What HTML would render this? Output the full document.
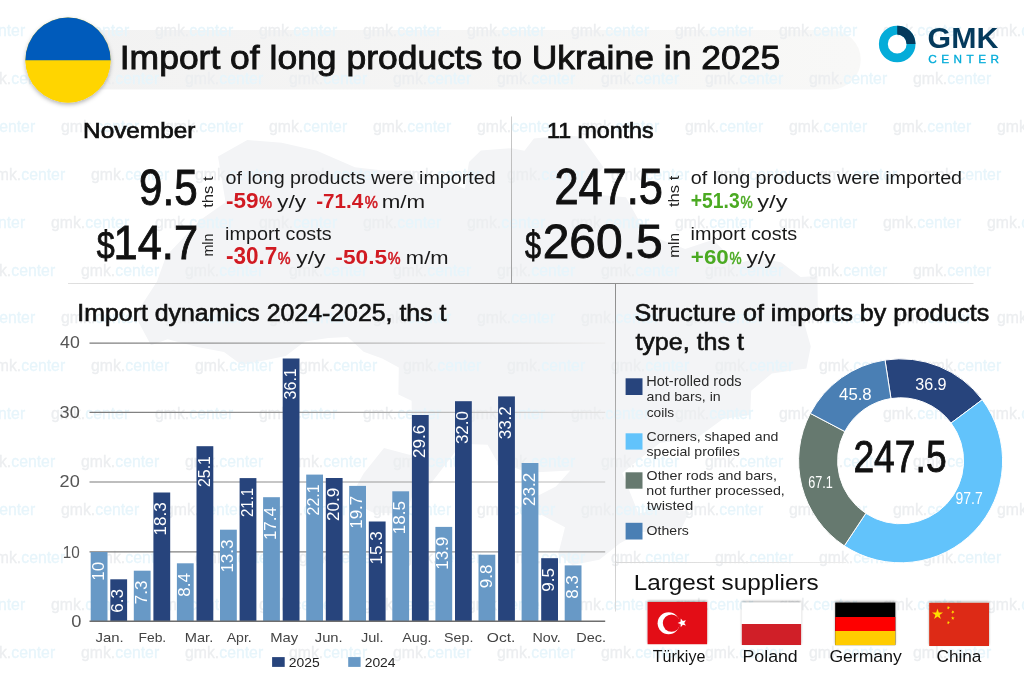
<!DOCTYPE html>
<html><head><meta charset="utf-8"><title>Import of long products to Ukraine in 2025</title>
<style>
html,body{margin:0;padding:0;background:#fff;}
body{width:1024px;height:683px;overflow:hidden;position:relative;font-family:"Liberation Sans", Arial, sans-serif;}
svg{position:absolute;left:0;top:0;}
</style></head><body>
<svg width="1024" height="683" viewBox="0 0 1024 683" font-family='"Liberation Sans", Arial, sans-serif'>
<defs>
<filter id="sh" x="-30%" y="-30%" width="160%" height="170%"><feDropShadow dx="0" dy="2" stdDeviation="2" flood-color="#000" flood-opacity="0.3"/></filter>
<filter id="fsh" x="-20%" y="-30%" width="140%" height="160%"><feDropShadow dx="0" dy="-1.2" stdDeviation="1.3" flood-color="#000" flood-opacity="0.35"/></filter>
<linearGradient id="tb" x1="0" x2="1" y1="0" y2="0"><stop offset="0" stop-color="#f2f2f2"/><stop offset="1" stop-color="#f8f8f7"/></linearGradient>
<linearGradient id="lg511" gradientUnits="userSpaceOnUse" x1="0" y1="116" x2="0" y2="283"><stop offset="0" stop-color="#cdcdcd"/><stop offset="1" stop-color="#9c9c9c"/></linearGradient>
<linearGradient id="lg283" gradientUnits="userSpaceOnUse" x1="68" y1="0" x2="973" y2="0"><stop offset="0" stop-color="#e0e0e0"/><stop offset="0.49" stop-color="#9e9e9e"/><stop offset="0.6" stop-color="#8e8e8e"/><stop offset="1" stop-color="#dedede"/></linearGradient>
<linearGradient id="lg615" gradientUnits="userSpaceOnUse" x1="0" y1="283" x2="0" y2="611"><stop offset="0" stop-color="#8c8c8c"/><stop offset="1" stop-color="#dadada"/></linearGradient>
<linearGradient id="lg562" gradientUnits="userSpaceOnUse" x1="615" y1="0" x2="846" y2="0"><stop offset="0" stop-color="#d8d8d8"/><stop offset="1" stop-color="#ececec"/></linearGradient>
<linearGradient id="lg40" gradientUnits="userSpaceOnUse" x1="89.5" y1="0" x2="605.2" y2="0"><stop offset="0" stop-color="#7a7a7a"/><stop offset="0.5" stop-color="#b4b4b4"/><stop offset="1" stop-color="#eeeeee"/></linearGradient>
<linearGradient id="lg30" gradientUnits="userSpaceOnUse" x1="89.5" y1="0" x2="605.2" y2="0"><stop offset="0" stop-color="#7a7a7a"/><stop offset="0.5" stop-color="#a4a4a4"/><stop offset="1" stop-color="#e2e2e2"/></linearGradient>
<linearGradient id="lg20" gradientUnits="userSpaceOnUse" x1="89.5" y1="0" x2="605.2" y2="0"><stop offset="0" stop-color="#7a7a7a"/><stop offset="0.5" stop-color="#959595"/><stop offset="1" stop-color="#c4c4c4"/></linearGradient>
<linearGradient id="lg10" gradientUnits="userSpaceOnUse" x1="89.5" y1="0" x2="605.2" y2="0"><stop offset="0" stop-color="#7a7a7a"/><stop offset="0.5" stop-color="#8c8c8c"/><stop offset="1" stop-color="#a8a8a8"/></linearGradient>
<clipPath id="fc"><circle cx="68" cy="60" r="42.6"/></clipPath>
</defs>
<rect id="bg" width="1024" height="683" fill="#fff"/>
<polygon id="map" points="135.0,315.5 157.0,281.5 166.1,256.0 200.0,220.2 225.6,202.2 218.0,156.5 247.3,140.0 281.7,142.8 316.9,150.8 354.9,167.2 383.0,170.5 409.9,170.7 418.2,183.6 451.1,182.7 464.8,188.7 469.0,161.9 480.8,150.5 511.5,148.2 524.5,150.7 533.9,138.5 561.9,135.7 581.3,136.4 603.5,167.2 594.4,178.0 597.1,194.8 626.0,197.3 639.0,220.8 638.3,231.1 685.2,248.9 713.0,239.8 736.8,263.6 758.5,258.1 781.0,262.2 800.6,277.1 817.4,275.9 817.8,308.3 803.3,320.1 810.8,346.6 806.4,368.6 771.8,373.5 751.2,390.8 750.2,415.1 722.8,419.1 695.7,439.0 660.1,442.7 632.4,464.8 622.3,473.0 638.4,513.4 668.8,507.3 689.2,512.2 681.4,528.6 640.5,532.2 620.0,543.3 599.3,559.7 572.4,565.1 558.2,554.2 565.0,527.2 538.9,513.4 522.9,507.7 535.4,497.1 555.9,486.6 570.3,470.5 528.2,472.7 496.7,461.1 487.6,444.7 465.8,443.9 455.4,451.6 431.3,483.0 412.2,495.6 406.6,514.2 372.1,512.2 348.9,499.7 363.6,473.6 384.0,447.9 409.3,454.8 429.4,453.1 423.1,431.2 411.9,422.4 411.6,400.8 398.4,394.6 398.8,367.6 382.2,358.4 363.6,351.7 347.8,336.9 328.4,338.1 304.9,341.4 285.7,355.9 241.7,364.9 224.0,352.0 197.5,347.1 167.6,339.3 151.0,345.2" fill="#f3f4f6"/>
<path d="M68,30 H831 A29.75,29.75 0 0 1 831,89.5 H68 Z" fill="url(#tb)"/>
<g id="wm" font-size="15.8" stroke-width="0.3">
<text x="-53.0" y="36.3"><tspan fill="#eceef0" stroke="#eceef0">gmk.</tspan><tspan fill="#e7f5fb" stroke="#e7f5fb">center</tspan></text>
<text x="51.0" y="36.3"><tspan fill="#eceef0" stroke="#eceef0">gmk.</tspan><tspan fill="#e7f5fb" stroke="#e7f5fb">center</tspan></text>
<text x="155.0" y="36.3"><tspan fill="#eceef0" stroke="#eceef0">gmk.</tspan><tspan fill="#e7f5fb" stroke="#e7f5fb">center</tspan></text>
<text x="259.0" y="36.3"><tspan fill="#eceef0" stroke="#eceef0">gmk.</tspan><tspan fill="#e7f5fb" stroke="#e7f5fb">center</tspan></text>
<text x="363.0" y="36.3"><tspan fill="#eceef0" stroke="#eceef0">gmk.</tspan><tspan fill="#e7f5fb" stroke="#e7f5fb">center</tspan></text>
<text x="467.0" y="36.3"><tspan fill="#eceef0" stroke="#eceef0">gmk.</tspan><tspan fill="#e7f5fb" stroke="#e7f5fb">center</tspan></text>
<text x="571.0" y="36.3"><tspan fill="#eceef0" stroke="#eceef0">gmk.</tspan><tspan fill="#e7f5fb" stroke="#e7f5fb">center</tspan></text>
<text x="675.0" y="36.3"><tspan fill="#eceef0" stroke="#eceef0">gmk.</tspan><tspan fill="#e7f5fb" stroke="#e7f5fb">center</tspan></text>
<text x="779.0" y="36.3"><tspan fill="#eceef0" stroke="#eceef0">gmk.</tspan><tspan fill="#e7f5fb" stroke="#e7f5fb">center</tspan></text>
<text x="883.0" y="36.3"><tspan fill="#eceef0" stroke="#eceef0">gmk.</tspan><tspan fill="#e7f5fb" stroke="#e7f5fb">center</tspan></text>
<text x="987.0" y="36.3"><tspan fill="#eceef0" stroke="#eceef0">gmk.</tspan><tspan fill="#e7f5fb" stroke="#e7f5fb">center</tspan></text>
<text x="-23.0" y="84.1"><tspan fill="#eceef0" stroke="#eceef0">gmk.</tspan><tspan fill="#e7f5fb" stroke="#e7f5fb">center</tspan></text>
<text x="81.0" y="84.1"><tspan fill="#eceef0" stroke="#eceef0">gmk.</tspan><tspan fill="#e7f5fb" stroke="#e7f5fb">center</tspan></text>
<text x="185.0" y="84.1"><tspan fill="#eceef0" stroke="#eceef0">gmk.</tspan><tspan fill="#e7f5fb" stroke="#e7f5fb">center</tspan></text>
<text x="289.0" y="84.1"><tspan fill="#eceef0" stroke="#eceef0">gmk.</tspan><tspan fill="#e7f5fb" stroke="#e7f5fb">center</tspan></text>
<text x="393.0" y="84.1"><tspan fill="#eceef0" stroke="#eceef0">gmk.</tspan><tspan fill="#e7f5fb" stroke="#e7f5fb">center</tspan></text>
<text x="497.0" y="84.1"><tspan fill="#eceef0" stroke="#eceef0">gmk.</tspan><tspan fill="#e7f5fb" stroke="#e7f5fb">center</tspan></text>
<text x="601.0" y="84.1"><tspan fill="#eceef0" stroke="#eceef0">gmk.</tspan><tspan fill="#e7f5fb" stroke="#e7f5fb">center</tspan></text>
<text x="705.0" y="84.1"><tspan fill="#eceef0" stroke="#eceef0">gmk.</tspan><tspan fill="#e7f5fb" stroke="#e7f5fb">center</tspan></text>
<text x="809.0" y="84.1"><tspan fill="#eceef0" stroke="#eceef0">gmk.</tspan><tspan fill="#e7f5fb" stroke="#e7f5fb">center</tspan></text>
<text x="913.0" y="84.1"><tspan fill="#eceef0" stroke="#eceef0">gmk.</tspan><tspan fill="#e7f5fb" stroke="#e7f5fb">center</tspan></text>
<text x="-43.0" y="132.0"><tspan fill="#eceef0" stroke="#eceef0">gmk.</tspan><tspan fill="#e7f5fb" stroke="#e7f5fb">center</tspan></text>
<text x="61.0" y="132.0"><tspan fill="#eceef0" stroke="#eceef0">gmk.</tspan><tspan fill="#e7f5fb" stroke="#e7f5fb">center</tspan></text>
<text x="165.0" y="132.0"><tspan fill="#eceef0" stroke="#eceef0">gmk.</tspan><tspan fill="#e7f5fb" stroke="#e7f5fb">center</tspan></text>
<text x="269.0" y="132.0"><tspan fill="#eceef0" stroke="#eceef0">gmk.</tspan><tspan fill="#e7f5fb" stroke="#e7f5fb">center</tspan></text>
<text x="373.0" y="132.0"><tspan fill="#eceef0" stroke="#eceef0">gmk.</tspan><tspan fill="#e7f5fb" stroke="#e7f5fb">center</tspan></text>
<text x="477.0" y="132.0"><tspan fill="#eceef0" stroke="#eceef0">gmk.</tspan><tspan fill="#e7f5fb" stroke="#e7f5fb">center</tspan></text>
<text x="581.0" y="132.0"><tspan fill="#eceef0" stroke="#eceef0">gmk.</tspan><tspan fill="#e7f5fb" stroke="#e7f5fb">center</tspan></text>
<text x="685.0" y="132.0"><tspan fill="#eceef0" stroke="#eceef0">gmk.</tspan><tspan fill="#e7f5fb" stroke="#e7f5fb">center</tspan></text>
<text x="789.0" y="132.0"><tspan fill="#eceef0" stroke="#eceef0">gmk.</tspan><tspan fill="#e7f5fb" stroke="#e7f5fb">center</tspan></text>
<text x="893.0" y="132.0"><tspan fill="#eceef0" stroke="#eceef0">gmk.</tspan><tspan fill="#e7f5fb" stroke="#e7f5fb">center</tspan></text>
<text x="997.0" y="132.0"><tspan fill="#eceef0" stroke="#eceef0">gmk.</tspan><tspan fill="#e7f5fb" stroke="#e7f5fb">center</tspan></text>
<text x="-13.0" y="179.8"><tspan fill="#eceef0" stroke="#eceef0">gmk.</tspan><tspan fill="#e7f5fb" stroke="#e7f5fb">center</tspan></text>
<text x="91.0" y="179.8"><tspan fill="#eceef0" stroke="#eceef0">gmk.</tspan><tspan fill="#e7f5fb" stroke="#e7f5fb">center</tspan></text>
<text x="195.0" y="179.8"><tspan fill="#eceef0" stroke="#eceef0">gmk.</tspan><tspan fill="#e7f5fb" stroke="#e7f5fb">center</tspan></text>
<text x="299.0" y="179.8"><tspan fill="#eceef0" stroke="#eceef0">gmk.</tspan><tspan fill="#e7f5fb" stroke="#e7f5fb">center</tspan></text>
<text x="403.0" y="179.8"><tspan fill="#eceef0" stroke="#eceef0">gmk.</tspan><tspan fill="#e7f5fb" stroke="#e7f5fb">center</tspan></text>
<text x="507.0" y="179.8"><tspan fill="#eceef0" stroke="#eceef0">gmk.</tspan><tspan fill="#e7f5fb" stroke="#e7f5fb">center</tspan></text>
<text x="611.0" y="179.8"><tspan fill="#eceef0" stroke="#eceef0">gmk.</tspan><tspan fill="#e7f5fb" stroke="#e7f5fb">center</tspan></text>
<text x="715.0" y="179.8"><tspan fill="#eceef0" stroke="#eceef0">gmk.</tspan><tspan fill="#e7f5fb" stroke="#e7f5fb">center</tspan></text>
<text x="819.0" y="179.8"><tspan fill="#eceef0" stroke="#eceef0">gmk.</tspan><tspan fill="#e7f5fb" stroke="#e7f5fb">center</tspan></text>
<text x="923.0" y="179.8"><tspan fill="#eceef0" stroke="#eceef0">gmk.</tspan><tspan fill="#e7f5fb" stroke="#e7f5fb">center</tspan></text>
<text x="-53.0" y="227.7"><tspan fill="#eceef0" stroke="#eceef0">gmk.</tspan><tspan fill="#e7f5fb" stroke="#e7f5fb">center</tspan></text>
<text x="51.0" y="227.7"><tspan fill="#eceef0" stroke="#eceef0">gmk.</tspan><tspan fill="#e7f5fb" stroke="#e7f5fb">center</tspan></text>
<text x="155.0" y="227.7"><tspan fill="#eceef0" stroke="#eceef0">gmk.</tspan><tspan fill="#e7f5fb" stroke="#e7f5fb">center</tspan></text>
<text x="259.0" y="227.7"><tspan fill="#eceef0" stroke="#eceef0">gmk.</tspan><tspan fill="#e7f5fb" stroke="#e7f5fb">center</tspan></text>
<text x="363.0" y="227.7"><tspan fill="#eceef0" stroke="#eceef0">gmk.</tspan><tspan fill="#e7f5fb" stroke="#e7f5fb">center</tspan></text>
<text x="467.0" y="227.7"><tspan fill="#eceef0" stroke="#eceef0">gmk.</tspan><tspan fill="#e7f5fb" stroke="#e7f5fb">center</tspan></text>
<text x="571.0" y="227.7"><tspan fill="#eceef0" stroke="#eceef0">gmk.</tspan><tspan fill="#e7f5fb" stroke="#e7f5fb">center</tspan></text>
<text x="675.0" y="227.7"><tspan fill="#eceef0" stroke="#eceef0">gmk.</tspan><tspan fill="#e7f5fb" stroke="#e7f5fb">center</tspan></text>
<text x="779.0" y="227.7"><tspan fill="#eceef0" stroke="#eceef0">gmk.</tspan><tspan fill="#e7f5fb" stroke="#e7f5fb">center</tspan></text>
<text x="883.0" y="227.7"><tspan fill="#eceef0" stroke="#eceef0">gmk.</tspan><tspan fill="#e7f5fb" stroke="#e7f5fb">center</tspan></text>
<text x="987.0" y="227.7"><tspan fill="#eceef0" stroke="#eceef0">gmk.</tspan><tspan fill="#e7f5fb" stroke="#e7f5fb">center</tspan></text>
<text x="-23.0" y="275.5"><tspan fill="#eceef0" stroke="#eceef0">gmk.</tspan><tspan fill="#e7f5fb" stroke="#e7f5fb">center</tspan></text>
<text x="81.0" y="275.5"><tspan fill="#eceef0" stroke="#eceef0">gmk.</tspan><tspan fill="#e7f5fb" stroke="#e7f5fb">center</tspan></text>
<text x="185.0" y="275.5"><tspan fill="#eceef0" stroke="#eceef0">gmk.</tspan><tspan fill="#e7f5fb" stroke="#e7f5fb">center</tspan></text>
<text x="289.0" y="275.5"><tspan fill="#eceef0" stroke="#eceef0">gmk.</tspan><tspan fill="#e7f5fb" stroke="#e7f5fb">center</tspan></text>
<text x="393.0" y="275.5"><tspan fill="#eceef0" stroke="#eceef0">gmk.</tspan><tspan fill="#e7f5fb" stroke="#e7f5fb">center</tspan></text>
<text x="497.0" y="275.5"><tspan fill="#eceef0" stroke="#eceef0">gmk.</tspan><tspan fill="#e7f5fb" stroke="#e7f5fb">center</tspan></text>
<text x="601.0" y="275.5"><tspan fill="#eceef0" stroke="#eceef0">gmk.</tspan><tspan fill="#e7f5fb" stroke="#e7f5fb">center</tspan></text>
<text x="705.0" y="275.5"><tspan fill="#eceef0" stroke="#eceef0">gmk.</tspan><tspan fill="#e7f5fb" stroke="#e7f5fb">center</tspan></text>
<text x="809.0" y="275.5"><tspan fill="#eceef0" stroke="#eceef0">gmk.</tspan><tspan fill="#e7f5fb" stroke="#e7f5fb">center</tspan></text>
<text x="913.0" y="275.5"><tspan fill="#eceef0" stroke="#eceef0">gmk.</tspan><tspan fill="#e7f5fb" stroke="#e7f5fb">center</tspan></text>
<text x="-43.0" y="323.3"><tspan fill="#eceef0" stroke="#eceef0">gmk.</tspan><tspan fill="#e7f5fb" stroke="#e7f5fb">center</tspan></text>
<text x="61.0" y="323.3"><tspan fill="#eceef0" stroke="#eceef0">gmk.</tspan><tspan fill="#e7f5fb" stroke="#e7f5fb">center</tspan></text>
<text x="165.0" y="323.3"><tspan fill="#eceef0" stroke="#eceef0">gmk.</tspan><tspan fill="#e7f5fb" stroke="#e7f5fb">center</tspan></text>
<text x="269.0" y="323.3"><tspan fill="#eceef0" stroke="#eceef0">gmk.</tspan><tspan fill="#e7f5fb" stroke="#e7f5fb">center</tspan></text>
<text x="373.0" y="323.3"><tspan fill="#eceef0" stroke="#eceef0">gmk.</tspan><tspan fill="#e7f5fb" stroke="#e7f5fb">center</tspan></text>
<text x="477.0" y="323.3"><tspan fill="#eceef0" stroke="#eceef0">gmk.</tspan><tspan fill="#e7f5fb" stroke="#e7f5fb">center</tspan></text>
<text x="581.0" y="323.3"><tspan fill="#eceef0" stroke="#eceef0">gmk.</tspan><tspan fill="#e7f5fb" stroke="#e7f5fb">center</tspan></text>
<text x="685.0" y="323.3"><tspan fill="#eceef0" stroke="#eceef0">gmk.</tspan><tspan fill="#e7f5fb" stroke="#e7f5fb">center</tspan></text>
<text x="789.0" y="323.3"><tspan fill="#eceef0" stroke="#eceef0">gmk.</tspan><tspan fill="#e7f5fb" stroke="#e7f5fb">center</tspan></text>
<text x="893.0" y="323.3"><tspan fill="#eceef0" stroke="#eceef0">gmk.</tspan><tspan fill="#e7f5fb" stroke="#e7f5fb">center</tspan></text>
<text x="997.0" y="323.3"><tspan fill="#eceef0" stroke="#eceef0">gmk.</tspan><tspan fill="#e7f5fb" stroke="#e7f5fb">center</tspan></text>
<text x="-13.0" y="371.2"><tspan fill="#eceef0" stroke="#eceef0">gmk.</tspan><tspan fill="#e7f5fb" stroke="#e7f5fb">center</tspan></text>
<text x="91.0" y="371.2"><tspan fill="#eceef0" stroke="#eceef0">gmk.</tspan><tspan fill="#e7f5fb" stroke="#e7f5fb">center</tspan></text>
<text x="195.0" y="371.2"><tspan fill="#eceef0" stroke="#eceef0">gmk.</tspan><tspan fill="#e7f5fb" stroke="#e7f5fb">center</tspan></text>
<text x="299.0" y="371.2"><tspan fill="#eceef0" stroke="#eceef0">gmk.</tspan><tspan fill="#e7f5fb" stroke="#e7f5fb">center</tspan></text>
<text x="403.0" y="371.2"><tspan fill="#eceef0" stroke="#eceef0">gmk.</tspan><tspan fill="#e7f5fb" stroke="#e7f5fb">center</tspan></text>
<text x="507.0" y="371.2"><tspan fill="#eceef0" stroke="#eceef0">gmk.</tspan><tspan fill="#e7f5fb" stroke="#e7f5fb">center</tspan></text>
<text x="611.0" y="371.2"><tspan fill="#eceef0" stroke="#eceef0">gmk.</tspan><tspan fill="#e7f5fb" stroke="#e7f5fb">center</tspan></text>
<text x="715.0" y="371.2"><tspan fill="#eceef0" stroke="#eceef0">gmk.</tspan><tspan fill="#e7f5fb" stroke="#e7f5fb">center</tspan></text>
<text x="819.0" y="371.2"><tspan fill="#eceef0" stroke="#eceef0">gmk.</tspan><tspan fill="#e7f5fb" stroke="#e7f5fb">center</tspan></text>
<text x="923.0" y="371.2"><tspan fill="#eceef0" stroke="#eceef0">gmk.</tspan><tspan fill="#e7f5fb" stroke="#e7f5fb">center</tspan></text>
<text x="-53.0" y="419.0"><tspan fill="#eceef0" stroke="#eceef0">gmk.</tspan><tspan fill="#e7f5fb" stroke="#e7f5fb">center</tspan></text>
<text x="51.0" y="419.0"><tspan fill="#eceef0" stroke="#eceef0">gmk.</tspan><tspan fill="#e7f5fb" stroke="#e7f5fb">center</tspan></text>
<text x="155.0" y="419.0"><tspan fill="#eceef0" stroke="#eceef0">gmk.</tspan><tspan fill="#e7f5fb" stroke="#e7f5fb">center</tspan></text>
<text x="259.0" y="419.0"><tspan fill="#eceef0" stroke="#eceef0">gmk.</tspan><tspan fill="#e7f5fb" stroke="#e7f5fb">center</tspan></text>
<text x="363.0" y="419.0"><tspan fill="#eceef0" stroke="#eceef0">gmk.</tspan><tspan fill="#e7f5fb" stroke="#e7f5fb">center</tspan></text>
<text x="467.0" y="419.0"><tspan fill="#eceef0" stroke="#eceef0">gmk.</tspan><tspan fill="#e7f5fb" stroke="#e7f5fb">center</tspan></text>
<text x="571.0" y="419.0"><tspan fill="#eceef0" stroke="#eceef0">gmk.</tspan><tspan fill="#e7f5fb" stroke="#e7f5fb">center</tspan></text>
<text x="675.0" y="419.0"><tspan fill="#eceef0" stroke="#eceef0">gmk.</tspan><tspan fill="#e7f5fb" stroke="#e7f5fb">center</tspan></text>
<text x="779.0" y="419.0"><tspan fill="#eceef0" stroke="#eceef0">gmk.</tspan><tspan fill="#e7f5fb" stroke="#e7f5fb">center</tspan></text>
<text x="883.0" y="419.0"><tspan fill="#eceef0" stroke="#eceef0">gmk.</tspan><tspan fill="#e7f5fb" stroke="#e7f5fb">center</tspan></text>
<text x="987.0" y="419.0"><tspan fill="#eceef0" stroke="#eceef0">gmk.</tspan><tspan fill="#e7f5fb" stroke="#e7f5fb">center</tspan></text>
<text x="-23.0" y="466.9"><tspan fill="#eceef0" stroke="#eceef0">gmk.</tspan><tspan fill="#e7f5fb" stroke="#e7f5fb">center</tspan></text>
<text x="81.0" y="466.9"><tspan fill="#eceef0" stroke="#eceef0">gmk.</tspan><tspan fill="#e7f5fb" stroke="#e7f5fb">center</tspan></text>
<text x="185.0" y="466.9"><tspan fill="#eceef0" stroke="#eceef0">gmk.</tspan><tspan fill="#e7f5fb" stroke="#e7f5fb">center</tspan></text>
<text x="289.0" y="466.9"><tspan fill="#eceef0" stroke="#eceef0">gmk.</tspan><tspan fill="#e7f5fb" stroke="#e7f5fb">center</tspan></text>
<text x="393.0" y="466.9"><tspan fill="#eceef0" stroke="#eceef0">gmk.</tspan><tspan fill="#e7f5fb" stroke="#e7f5fb">center</tspan></text>
<text x="497.0" y="466.9"><tspan fill="#eceef0" stroke="#eceef0">gmk.</tspan><tspan fill="#e7f5fb" stroke="#e7f5fb">center</tspan></text>
<text x="601.0" y="466.9"><tspan fill="#eceef0" stroke="#eceef0">gmk.</tspan><tspan fill="#e7f5fb" stroke="#e7f5fb">center</tspan></text>
<text x="705.0" y="466.9"><tspan fill="#eceef0" stroke="#eceef0">gmk.</tspan><tspan fill="#e7f5fb" stroke="#e7f5fb">center</tspan></text>
<text x="809.0" y="466.9"><tspan fill="#eceef0" stroke="#eceef0">gmk.</tspan><tspan fill="#e7f5fb" stroke="#e7f5fb">center</tspan></text>
<text x="913.0" y="466.9"><tspan fill="#eceef0" stroke="#eceef0">gmk.</tspan><tspan fill="#e7f5fb" stroke="#e7f5fb">center</tspan></text>
<text x="-43.0" y="514.7"><tspan fill="#eceef0" stroke="#eceef0">gmk.</tspan><tspan fill="#e7f5fb" stroke="#e7f5fb">center</tspan></text>
<text x="61.0" y="514.7"><tspan fill="#eceef0" stroke="#eceef0">gmk.</tspan><tspan fill="#e7f5fb" stroke="#e7f5fb">center</tspan></text>
<text x="165.0" y="514.7"><tspan fill="#eceef0" stroke="#eceef0">gmk.</tspan><tspan fill="#e7f5fb" stroke="#e7f5fb">center</tspan></text>
<text x="269.0" y="514.7"><tspan fill="#eceef0" stroke="#eceef0">gmk.</tspan><tspan fill="#e7f5fb" stroke="#e7f5fb">center</tspan></text>
<text x="373.0" y="514.7"><tspan fill="#eceef0" stroke="#eceef0">gmk.</tspan><tspan fill="#e7f5fb" stroke="#e7f5fb">center</tspan></text>
<text x="477.0" y="514.7"><tspan fill="#eceef0" stroke="#eceef0">gmk.</tspan><tspan fill="#e7f5fb" stroke="#e7f5fb">center</tspan></text>
<text x="581.0" y="514.7"><tspan fill="#eceef0" stroke="#eceef0">gmk.</tspan><tspan fill="#e7f5fb" stroke="#e7f5fb">center</tspan></text>
<text x="685.0" y="514.7"><tspan fill="#eceef0" stroke="#eceef0">gmk.</tspan><tspan fill="#e7f5fb" stroke="#e7f5fb">center</tspan></text>
<text x="789.0" y="514.7"><tspan fill="#eceef0" stroke="#eceef0">gmk.</tspan><tspan fill="#e7f5fb" stroke="#e7f5fb">center</tspan></text>
<text x="893.0" y="514.7"><tspan fill="#eceef0" stroke="#eceef0">gmk.</tspan><tspan fill="#e7f5fb" stroke="#e7f5fb">center</tspan></text>
<text x="997.0" y="514.7"><tspan fill="#eceef0" stroke="#eceef0">gmk.</tspan><tspan fill="#e7f5fb" stroke="#e7f5fb">center</tspan></text>
<text x="-13.0" y="562.5"><tspan fill="#eceef0" stroke="#eceef0">gmk.</tspan><tspan fill="#e7f5fb" stroke="#e7f5fb">center</tspan></text>
<text x="91.0" y="562.5"><tspan fill="#eceef0" stroke="#eceef0">gmk.</tspan><tspan fill="#e7f5fb" stroke="#e7f5fb">center</tspan></text>
<text x="195.0" y="562.5"><tspan fill="#eceef0" stroke="#eceef0">gmk.</tspan><tspan fill="#e7f5fb" stroke="#e7f5fb">center</tspan></text>
<text x="299.0" y="562.5"><tspan fill="#eceef0" stroke="#eceef0">gmk.</tspan><tspan fill="#e7f5fb" stroke="#e7f5fb">center</tspan></text>
<text x="403.0" y="562.5"><tspan fill="#eceef0" stroke="#eceef0">gmk.</tspan><tspan fill="#e7f5fb" stroke="#e7f5fb">center</tspan></text>
<text x="507.0" y="562.5"><tspan fill="#eceef0" stroke="#eceef0">gmk.</tspan><tspan fill="#e7f5fb" stroke="#e7f5fb">center</tspan></text>
<text x="611.0" y="562.5"><tspan fill="#eceef0" stroke="#eceef0">gmk.</tspan><tspan fill="#e7f5fb" stroke="#e7f5fb">center</tspan></text>
<text x="715.0" y="562.5"><tspan fill="#eceef0" stroke="#eceef0">gmk.</tspan><tspan fill="#e7f5fb" stroke="#e7f5fb">center</tspan></text>
<text x="819.0" y="562.5"><tspan fill="#eceef0" stroke="#eceef0">gmk.</tspan><tspan fill="#e7f5fb" stroke="#e7f5fb">center</tspan></text>
<text x="923.0" y="562.5"><tspan fill="#eceef0" stroke="#eceef0">gmk.</tspan><tspan fill="#e7f5fb" stroke="#e7f5fb">center</tspan></text>
<text x="-53.0" y="610.4"><tspan fill="#eceef0" stroke="#eceef0">gmk.</tspan><tspan fill="#e7f5fb" stroke="#e7f5fb">center</tspan></text>
<text x="51.0" y="610.4"><tspan fill="#eceef0" stroke="#eceef0">gmk.</tspan><tspan fill="#e7f5fb" stroke="#e7f5fb">center</tspan></text>
<text x="155.0" y="610.4"><tspan fill="#eceef0" stroke="#eceef0">gmk.</tspan><tspan fill="#e7f5fb" stroke="#e7f5fb">center</tspan></text>
<text x="259.0" y="610.4"><tspan fill="#eceef0" stroke="#eceef0">gmk.</tspan><tspan fill="#e7f5fb" stroke="#e7f5fb">center</tspan></text>
<text x="363.0" y="610.4"><tspan fill="#eceef0" stroke="#eceef0">gmk.</tspan><tspan fill="#e7f5fb" stroke="#e7f5fb">center</tspan></text>
<text x="467.0" y="610.4"><tspan fill="#eceef0" stroke="#eceef0">gmk.</tspan><tspan fill="#e7f5fb" stroke="#e7f5fb">center</tspan></text>
<text x="571.0" y="610.4"><tspan fill="#eceef0" stroke="#eceef0">gmk.</tspan><tspan fill="#e7f5fb" stroke="#e7f5fb">center</tspan></text>
<text x="675.0" y="610.4"><tspan fill="#eceef0" stroke="#eceef0">gmk.</tspan><tspan fill="#e7f5fb" stroke="#e7f5fb">center</tspan></text>
<text x="779.0" y="610.4"><tspan fill="#eceef0" stroke="#eceef0">gmk.</tspan><tspan fill="#e7f5fb" stroke="#e7f5fb">center</tspan></text>
<text x="883.0" y="610.4"><tspan fill="#eceef0" stroke="#eceef0">gmk.</tspan><tspan fill="#e7f5fb" stroke="#e7f5fb">center</tspan></text>
<text x="987.0" y="610.4"><tspan fill="#eceef0" stroke="#eceef0">gmk.</tspan><tspan fill="#e7f5fb" stroke="#e7f5fb">center</tspan></text>
<text x="-23.0" y="658.2"><tspan fill="#eceef0" stroke="#eceef0">gmk.</tspan><tspan fill="#e7f5fb" stroke="#e7f5fb">center</tspan></text>
<text x="81.0" y="658.2"><tspan fill="#eceef0" stroke="#eceef0">gmk.</tspan><tspan fill="#e7f5fb" stroke="#e7f5fb">center</tspan></text>
<text x="185.0" y="658.2"><tspan fill="#eceef0" stroke="#eceef0">gmk.</tspan><tspan fill="#e7f5fb" stroke="#e7f5fb">center</tspan></text>
<text x="289.0" y="658.2"><tspan fill="#eceef0" stroke="#eceef0">gmk.</tspan><tspan fill="#e7f5fb" stroke="#e7f5fb">center</tspan></text>
<text x="393.0" y="658.2"><tspan fill="#eceef0" stroke="#eceef0">gmk.</tspan><tspan fill="#e7f5fb" stroke="#e7f5fb">center</tspan></text>
<text x="497.0" y="658.2"><tspan fill="#eceef0" stroke="#eceef0">gmk.</tspan><tspan fill="#e7f5fb" stroke="#e7f5fb">center</tspan></text>
<text x="601.0" y="658.2"><tspan fill="#eceef0" stroke="#eceef0">gmk.</tspan><tspan fill="#e7f5fb" stroke="#e7f5fb">center</tspan></text>
<text x="705.0" y="658.2"><tspan fill="#eceef0" stroke="#eceef0">gmk.</tspan><tspan fill="#e7f5fb" stroke="#e7f5fb">center</tspan></text>
<text x="809.0" y="658.2"><tspan fill="#eceef0" stroke="#eceef0">gmk.</tspan><tspan fill="#e7f5fb" stroke="#e7f5fb">center</tspan></text>
<text x="913.0" y="658.2"><tspan fill="#eceef0" stroke="#eceef0">gmk.</tspan><tspan fill="#e7f5fb" stroke="#e7f5fb">center</tspan></text>
</g>
<g stroke-width="1">
<line x1="511.5" y1="116.5" x2="511.5" y2="283" stroke="url(#lg511)"/>
<line x1="68" y1="283.5" x2="973.5" y2="283.5" stroke="url(#lg283)"/>
<line x1="615.5" y1="283.5" x2="615.5" y2="611.5" stroke="url(#lg615)"/>
<line x1="615.5" y1="562.5" x2="846" y2="562.5" stroke="url(#lg562)"/>
</g>
<g filter="url(#sh)"><circle cx="68" cy="60" r="42.6" fill="#ffd500"/></g>
<g clip-path="url(#fc)"><rect x="20" y="10" width="100" height="50.5" fill="#005bbb"/><rect x="20" y="60.5" width="100" height="50" fill="#ffd500"/></g>
<circle cx="897.2" cy="44" r="13.85" fill="none" stroke="#05acd9" stroke-width="8.9"/>
<path d="M897.2,25.7 A18.3,18.3 0 0 1 915.5,44 L906.6,44 A9.4,9.4 0 0 0 897.2,34.6 Z" fill="#043a5c"/>
<g stroke-width="1.2">
<line x1="89.5" y1="343.1" x2="605.2" y2="343.1" stroke="url(#lg40)"/>
<line x1="89.5" y1="412.3" x2="605.2" y2="412.3" stroke="url(#lg30)"/>
<line x1="89.5" y1="482" x2="605.2" y2="482" stroke="url(#lg20)"/>
<line x1="89.5" y1="551.8" x2="605.2" y2="551.8" stroke="url(#lg10)"/>
</g>
<rect x="90.7" y="552.0" width="16.8" height="69.0" fill="#6899c6"/>
<rect x="110.3" y="579.3" width="16.8" height="41.7" fill="#27447c"/>
<rect x="133.8" y="570.7" width="16.8" height="50.3" fill="#6899c6"/>
<rect x="153.4" y="492.5" width="16.8" height="128.5" fill="#27447c"/>
<rect x="176.9" y="563.3" width="16.8" height="57.7" fill="#6899c6"/>
<rect x="196.5" y="446.2" width="16.8" height="174.8" fill="#27447c"/>
<rect x="220.0" y="529.7" width="16.8" height="91.3" fill="#6899c6"/>
<rect x="239.6" y="478.1" width="16.8" height="142.9" fill="#27447c"/>
<rect x="263.1" y="497.2" width="16.8" height="123.8" fill="#6899c6"/>
<rect x="282.7" y="358.5" width="16.8" height="262.5" fill="#27447c"/>
<rect x="306.2" y="474.6" width="16.8" height="146.4" fill="#6899c6"/>
<rect x="325.8" y="478.0" width="16.8" height="143.0" fill="#27447c"/>
<rect x="349.2" y="485.9" width="16.8" height="135.1" fill="#6899c6"/>
<rect x="368.8" y="521.5" width="16.8" height="99.5" fill="#27447c"/>
<rect x="392.3" y="491.3" width="16.8" height="129.7" fill="#6899c6"/>
<rect x="411.9" y="415.0" width="16.8" height="206.0" fill="#27447c"/>
<rect x="435.4" y="526.9" width="16.8" height="94.1" fill="#6899c6"/>
<rect x="455.0" y="401.2" width="16.8" height="219.8" fill="#27447c"/>
<rect x="478.5" y="554.7" width="16.8" height="66.3" fill="#6899c6"/>
<rect x="498.1" y="396.4" width="16.8" height="224.6" fill="#27447c"/>
<rect x="521.6" y="463.0" width="16.8" height="158.0" fill="#6899c6"/>
<rect x="541.2" y="558.2" width="16.8" height="62.8" fill="#27447c"/>
<rect x="564.7" y="565.4" width="16.8" height="55.6" fill="#6899c6"/>
<line x1="89.5" y1="621.2" x2="605.2" y2="621.2" stroke="#6e6e6e" stroke-width="1.6"/>
<g font-size="17.0" fill="#fff">
<text id="bl0" transform="translate(103.7,561.8) rotate(-90)" text-anchor="end" textLength="18.9" lengthAdjust="spacingAndGlyphs">10</text>
<text id="bd0" transform="translate(123.3,589.1) rotate(-90)" text-anchor="end" textLength="23.63" lengthAdjust="spacingAndGlyphs">6.3</text>
<text id="bl1" transform="translate(146.8,580.5) rotate(-90)" text-anchor="end" textLength="23.63" lengthAdjust="spacingAndGlyphs">7.3</text>
<text id="bd1" transform="translate(166.4,502.3) rotate(-90)" text-anchor="end" textLength="33.08" lengthAdjust="spacingAndGlyphs">18.3</text>
<text id="bl2" transform="translate(189.9,573.1) rotate(-90)" text-anchor="end" textLength="23.63" lengthAdjust="spacingAndGlyphs">8.4</text>
<text id="bd2" transform="translate(209.5,456.0) rotate(-90)" text-anchor="end" textLength="31.08" lengthAdjust="spacingAndGlyphs">25.1</text>
<text id="bl3" transform="translate(233.0,539.5) rotate(-90)" text-anchor="end" textLength="33.08" lengthAdjust="spacingAndGlyphs">13.3</text>
<text id="bd3" transform="translate(252.6,487.9) rotate(-90)" text-anchor="end" textLength="29.08" lengthAdjust="spacingAndGlyphs">21.1</text>
<text id="bl4" transform="translate(276.1,507.0) rotate(-90)" text-anchor="end" textLength="33.08" lengthAdjust="spacingAndGlyphs">17.4</text>
<text id="bd4" transform="translate(295.7,368.3) rotate(-90)" text-anchor="end" textLength="31.08" lengthAdjust="spacingAndGlyphs">36.1</text>
<text id="bl5" transform="translate(319.2,484.4) rotate(-90)" text-anchor="end" textLength="31.08" lengthAdjust="spacingAndGlyphs">22.1</text>
<text id="bd5" transform="translate(338.8,487.8) rotate(-90)" text-anchor="end" textLength="33.08" lengthAdjust="spacingAndGlyphs">20.9</text>
<text id="bl6" transform="translate(362.2,495.7) rotate(-90)" text-anchor="end" textLength="33.08" lengthAdjust="spacingAndGlyphs">19.7</text>
<text id="bd6" transform="translate(381.8,531.3) rotate(-90)" text-anchor="end" textLength="33.08" lengthAdjust="spacingAndGlyphs">15.3</text>
<text id="bl7" transform="translate(405.3,501.1) rotate(-90)" text-anchor="end" textLength="33.08" lengthAdjust="spacingAndGlyphs">18.5</text>
<text id="bd7" transform="translate(424.9,424.8) rotate(-90)" text-anchor="end" textLength="33.08" lengthAdjust="spacingAndGlyphs">29.6</text>
<text id="bl8" transform="translate(448.4,536.7) rotate(-90)" text-anchor="end" textLength="33.08" lengthAdjust="spacingAndGlyphs">13.9</text>
<text id="bd8" transform="translate(468.0,411.0) rotate(-90)" text-anchor="end" textLength="33.08" lengthAdjust="spacingAndGlyphs">32.0</text>
<text id="bl9" transform="translate(491.5,564.5) rotate(-90)" text-anchor="end" textLength="23.63" lengthAdjust="spacingAndGlyphs">9.8</text>
<text id="bd9" transform="translate(511.1,406.2) rotate(-90)" text-anchor="end" textLength="33.08" lengthAdjust="spacingAndGlyphs">33.2</text>
<text id="bl10" transform="translate(534.6,472.8) rotate(-90)" text-anchor="end" textLength="33.08" lengthAdjust="spacingAndGlyphs">23.2</text>
<text id="bd10" transform="translate(554.2,568.0) rotate(-90)" text-anchor="end" textLength="23.63" lengthAdjust="spacingAndGlyphs">9.5</text>
<text id="bl11" transform="translate(577.7,575.2) rotate(-90)" text-anchor="end" textLength="23.63" lengthAdjust="spacingAndGlyphs">8.3</text>
</g>
<rect x="272.1" y="657.1" width="12.6" height="9.8" fill="#27447c"/>
<rect x="348.2" y="657.1" width="12.4" height="9.8" fill="#6899c6"/>
<rect x="625.6" y="378.3" width="16.9" height="16.7" fill="#27447c"/>
<rect x="625.6" y="433.3" width="16.9" height="16.3" fill="#62c3fb"/>
<rect x="625.6" y="472.3" width="16.9" height="16.4" fill="#66796f"/>
<rect x="625.6" y="522.8" width="16.9" height="16.7" fill="#4a7fb4"/>
<path d="M885.00,360.00 A102,102 0 0 1 982.27,399.70 L951.05,423.06 A63,63 0 0 0 890.96,398.54 Z" fill="#27447c" stroke="#fff" stroke-width="1"/>
<path d="M982.27,399.70 A102,102 0 0 1 844.30,545.86 L865.83,513.33 A63,63 0 0 0 951.05,423.06 Z" fill="#62c3fb" stroke="#fff" stroke-width="1"/>
<path d="M844.30,545.86 A102,102 0 0 1 810.29,413.39 L844.82,431.51 A63,63 0 0 0 865.83,513.33 Z" fill="#66796f" stroke="#fff" stroke-width="1"/>
<path d="M810.29,413.39 A102,102 0 0 1 885.00,360.00 L890.96,398.54 A63,63 0 0 0 844.82,431.51 Z" fill="#4a7fb4" stroke="#fff" stroke-width="1"/>
<g filter="url(#fsh)">
<rect x="647.6" y="602" width="59.5" height="42.2" fill="#e30a17"/>
<rect x="741.8" y="602.6" width="59.3" height="42.4" fill="#fff"/>
<rect x="835.2" y="602.6" width="60.1" height="42.5" fill="#000"/>
<rect x="929.2" y="602.9" width="59.8" height="43.1" fill="#dd2a12"/>
</g>
<circle cx="668.6" cy="623.2" r="11" fill="#fff"/>
<circle cx="671.5" cy="623.1" r="8.7" fill="#e30a17"/>
<polygon points="680.78,618.53 682.84,620.93 685.92,620.20 684.27,622.90 685.92,625.60 682.84,624.87 680.78,627.27 680.53,624.12 677.60,622.90 680.53,621.68" fill="#fff"/>
<rect x="741.8" y="624" width="59.3" height="21" fill="#d01f28"/>
<rect x="835.2" y="617" width="60.1" height="14" fill="#fe0000"/>
<rect x="835.2" y="631" width="60.1" height="14.1" fill="#ffcc00"/>
<g fill="#ffde00">
<polygon points="937.50,608.40 938.80,612.41 943.02,612.41 939.61,614.88 940.91,618.89 937.50,616.42 934.09,618.89 935.39,614.88 931.98,612.41 936.20,612.41"/>
<polygon points="949.05,605.91 949.00,607.29 950.30,607.77 948.97,608.15 948.92,609.53 948.15,608.38 946.82,608.76 947.67,607.67 946.90,606.53 948.20,607.00"/>
<polygon points="954.14,610.66 953.52,611.89 954.49,612.86 953.13,612.65 952.50,613.88 952.29,612.51 950.92,612.30 952.15,611.67 951.94,610.31 952.91,611.28"/>
<polygon points="952.80,616.30 953.23,617.61 954.61,617.61 953.49,618.42 953.92,619.74 952.80,618.93 951.68,619.74 952.11,618.42 950.99,617.61 952.37,617.61"/>
<polygon points="949.05,620.81 949.00,622.19 950.30,622.67 948.97,623.05 948.92,624.43 948.15,623.28 946.82,623.66 947.67,622.57 946.90,621.43 948.20,621.90"/>
</g>
<text id="title" x="119.77" y="68.90" font-size="33.63" fill="#111" stroke="#111" stroke-width="0.9" textLength="660.34" lengthAdjust="spacingAndGlyphs">Import of long products to Ukraine in 2025</text>
<text id="nov" x="83.10" y="138.10" font-size="22.39" fill="#111" stroke="#111" stroke-width="0.7" textLength="112.19" lengthAdjust="spacingAndGlyphs">November</text>
<text id="n95" x="139.06" y="204.80" font-size="50.09" fill="#111" stroke="#111" stroke-width="0.9" textLength="58.54" lengthAdjust="spacingAndGlyphs">9.5</text>
<text id="nd1" x="96.67" y="258.77" font-size="38.00" fill="#111" stroke="#111" stroke-width="0.8" textLength="17.97" lengthAdjust="spacingAndGlyphs">$</text>
<text id="n147" x="113.52" y="258.70" font-size="48.88" fill="#111" stroke="#111" stroke-width="0.9" textLength="84.58" lengthAdjust="spacingAndGlyphs">14.7</text>
<text id="l1" x="225.58" y="184.10" font-size="17.72" fill="#1a1a1a" textLength="270.02" lengthAdjust="spacingAndGlyphs">of long products were imported</text>
<text id="l2a" x="226.00" y="208.20" font-size="22.18" fill="#d11a22" font-weight="bold" textLength="32.52" lengthAdjust="spacingAndGlyphs">-59</text>
<text id="l2ap" x="259.13" y="208.20" font-size="17.00" fill="#d11a22" stroke="#d11a22" stroke-width="0.6" textLength="12.76" lengthAdjust="spacingAndGlyphs">%</text>
<text id="l2b" x="277.09" y="208.10" font-size="17.90" fill="#1a1a1a" textLength="29.25" lengthAdjust="spacingAndGlyphs">y/y</text>
<text id="l2c" x="316.21" y="208.20" font-size="21.00" fill="#d11a22" font-weight="bold" textLength="47.13" lengthAdjust="spacingAndGlyphs">-71.4</text>
<text id="l2cp" x="364.63" y="208.20" font-size="17.00" fill="#d11a22" stroke="#d11a22" stroke-width="0.6" textLength="13.10" lengthAdjust="spacingAndGlyphs">%</text>
<text id="l2d" x="381.72" y="208.10" font-size="17.90" fill="#1a1a1a" textLength="43.40" lengthAdjust="spacingAndGlyphs">m/m</text>
<text id="l3" x="225.14" y="239.60" font-size="17.90" fill="#1a1a1a" textLength="106.49" lengthAdjust="spacingAndGlyphs">import costs</text>
<text id="l4a" x="226.05" y="263.80" font-size="23.24" fill="#d11a22" font-weight="bold" textLength="51.35" lengthAdjust="spacingAndGlyphs">-30.7</text>
<text id="l4ap" x="277.83" y="263.80" font-size="17.00" fill="#d11a22" stroke="#d11a22" stroke-width="0.6" textLength="12.82" lengthAdjust="spacingAndGlyphs">%</text>
<text id="l4b" x="296.28" y="263.70" font-size="17.90" fill="#1a1a1a" textLength="29.25" lengthAdjust="spacingAndGlyphs">y/y</text>
<text id="l4c" x="335.37" y="263.80" font-size="21.00" fill="#d11a22" font-weight="bold" textLength="51.78" lengthAdjust="spacingAndGlyphs">-50.5</text>
<text id="l4cp" x="387.83" y="263.80" font-size="17.00" fill="#d11a22" stroke="#d11a22" stroke-width="0.6" textLength="12.82" lengthAdjust="spacingAndGlyphs">%</text>
<text id="l4d" x="405.85" y="263.70" font-size="17.90" fill="#1a1a1a" textLength="42.73" lengthAdjust="spacingAndGlyphs">m/m</text>
<text id="m11" x="547.07" y="138.40" font-size="22.40" fill="#111" stroke="#111" stroke-width="0.7" textLength="106.51" lengthAdjust="spacingAndGlyphs">11 months</text>
<text id="n2475" x="554.38" y="203.50" font-size="49.46" fill="#111" stroke="#111" stroke-width="0.9" textLength="108.55" lengthAdjust="spacingAndGlyphs">247.5</text>
<text id="nd2" x="524.88" y="259.07" font-size="37.98" fill="#111" stroke="#111" stroke-width="0.8" textLength="16.07" lengthAdjust="spacingAndGlyphs">$</text>
<text id="n2605" x="542.70" y="258.40" font-size="47.77" fill="#111" stroke="#111" stroke-width="0.9" textLength="119.91" lengthAdjust="spacingAndGlyphs">260.5</text>
<text id="r1" x="690.80" y="184.30" font-size="17.72" fill="#1a1a1a" textLength="271.32" lengthAdjust="spacingAndGlyphs">of long products were imported</text>
<text id="r2a" x="690.80" y="208.20" font-size="22.98" fill="#4baa22" font-weight="bold" textLength="48.84" lengthAdjust="spacingAndGlyphs">+51.3</text>
<text id="r2ap" x="740.58" y="208.20" font-size="17.00" fill="#4baa22" stroke="#4baa22" stroke-width="0.6" textLength="12.18" lengthAdjust="spacingAndGlyphs">%</text>
<text id="r2b" x="757.27" y="208.30" font-size="17.90" fill="#1a1a1a" textLength="30.24" lengthAdjust="spacingAndGlyphs">y/y</text>
<text id="r3" x="690.53" y="239.80" font-size="17.90" fill="#1a1a1a" textLength="106.57" lengthAdjust="spacingAndGlyphs">import costs</text>
<text id="r4a" x="690.88" y="264.00" font-size="21.00" fill="#4baa22" font-weight="bold" textLength="37.90" lengthAdjust="spacingAndGlyphs">+60</text>
<text id="r4ap" x="729.45" y="264.00" font-size="17.00" fill="#4baa22" stroke="#4baa22" stroke-width="0.6" textLength="12.09" lengthAdjust="spacingAndGlyphs">%</text>
<text id="r4b" x="746.50" y="264.00" font-size="17.90" fill="#1a1a1a" textLength="28.99" lengthAdjust="spacingAndGlyphs">y/y</text>
<text id="ct" x="77.36" y="320.80" font-size="23.08" fill="#111" stroke="#111" stroke-width="0.6" textLength="369.01" lengthAdjust="spacingAndGlyphs">Import dynamics 2024-2025, ths t</text>
<text id="st1" x="634.46" y="320.80" font-size="23.08" fill="#111" stroke="#111" stroke-width="0.6" textLength="354.83" lengthAdjust="spacingAndGlyphs">Structure of imports by products</text>
<text id="st2" x="635.40" y="349.70" font-size="23.50" fill="#111" stroke="#111" stroke-width="0.6" textLength="108.59" lengthAdjust="spacingAndGlyphs">type, ths t</text>
<text id="lg1" x="646.15" y="385.60" font-size="14.09" fill="#2a2a2a" textLength="95.48" lengthAdjust="spacingAndGlyphs">Hot-rolled rods</text>
<text id="lg2" x="646.62" y="401.10" font-size="12.70" fill="#2a2a2a" textLength="74.16" lengthAdjust="spacingAndGlyphs">and bars, in</text>
<text id="lg3" x="646.74" y="416.50" font-size="12.70" fill="#2a2a2a" textLength="27.51" lengthAdjust="spacingAndGlyphs">coils</text>
<text id="lg4" x="646.47" y="440.50" font-size="12.70" fill="#2a2a2a" textLength="131.88" lengthAdjust="spacingAndGlyphs">Corners, shaped and</text>
<text id="lg5" x="646.53" y="455.50" font-size="12.70" fill="#2a2a2a" textLength="93.32" lengthAdjust="spacingAndGlyphs">special profiles</text>
<text id="lg6" x="646.58" y="479.50" font-size="12.70" fill="#2a2a2a" textLength="130.31" lengthAdjust="spacingAndGlyphs">Other rods and bars,</text>
<text id="lg7" x="646.23" y="495.00" font-size="12.70" fill="#2a2a2a" textLength="138.61" lengthAdjust="spacingAndGlyphs">not further processed,</text>
<text id="lg8" x="646.80" y="509.90" font-size="12.70" fill="#2a2a2a" textLength="46.39" lengthAdjust="spacingAndGlyphs">twisted</text>
<text id="lg9" x="646.60" y="535.40" font-size="12.70" fill="#2a2a2a" textLength="42.27" lengthAdjust="spacingAndGlyphs">Others</text>
<text id="dc" x="853.38" y="472.20" font-size="43.81" fill="#111" stroke="#111" stroke-width="0.9" textLength="93.25" lengthAdjust="spacingAndGlyphs">247.5</text>
<text id="d1" x="915.20" y="390.20" font-size="16.37" fill="#fff" textLength="31.40" lengthAdjust="spacingAndGlyphs">36.9</text>
<text id="d2" x="839.10" y="399.50" font-size="16.00" fill="#fff" textLength="32.59" lengthAdjust="spacingAndGlyphs">45.8</text>
<text id="d3" x="808.22" y="487.80" font-size="16.00" fill="#fff" textLength="24.61" lengthAdjust="spacingAndGlyphs">67.1</text>
<text id="d4" x="955.51" y="504.00" font-size="16.00" fill="#fff" textLength="27.23" lengthAdjust="spacingAndGlyphs">97.7</text>
<text id="ls" x="633.74" y="589.80" font-size="22.82" fill="#111" textLength="185.03" lengthAdjust="spacingAndGlyphs">Largest suppliers</text>
<text id="c1" x="652.77" y="662.00" font-size="16.70" fill="#111" textLength="52.63" lengthAdjust="spacingAndGlyphs">Türkiye</text>
<text id="c2" x="742.54" y="662.40" font-size="16.70" fill="#111" textLength="55.17" lengthAdjust="spacingAndGlyphs">Poland</text>
<text id="c3" x="829.42" y="662.40" font-size="16.70" fill="#111" textLength="72.30" lengthAdjust="spacingAndGlyphs">Germany</text>
<text id="c4" x="936.54" y="662.40" font-size="16.70" fill="#111" textLength="44.87" lengthAdjust="spacingAndGlyphs">China</text>
<text id="gmk" x="927.60" y="48.20" font-size="30.02" fill="#043a5c" font-weight="bold" textLength="70.71" lengthAdjust="spacingAndGlyphs">GMK</text>
<text id="cen" x="928.30" y="62.90" font-size="11.74" fill="#05acd9" stroke="#05acd9" stroke-width="0.35" textLength="70.74" lengthAdjust="spacing">CENTER</text>
<text id="lg25" x="288.70" y="667.30" font-size="13.00" fill="#222" textLength="30.96" lengthAdjust="spacingAndGlyphs">2025</text>
<text id="lg24" x="364.70" y="667.30" font-size="13.00" fill="#222" textLength="30.85" lengthAdjust="spacingAndGlyphs">2024</text>
<text id="mo0" x="95.44" y="642.20" font-size="13.00" fill="#444" textLength="28.20" lengthAdjust="spacingAndGlyphs">Jan.</text>
<text id="mo1" x="138.48" y="642.20" font-size="13.00" fill="#444" textLength="27.76" lengthAdjust="spacingAndGlyphs">Feb.</text>
<text id="mo2" x="184.81" y="642.20" font-size="13.00" fill="#444" textLength="28.45" lengthAdjust="spacingAndGlyphs">Mar.</text>
<text id="mo3" x="226.73" y="642.20" font-size="13.00" fill="#444" textLength="25.07" lengthAdjust="spacingAndGlyphs">Apr.</text>
<text id="mo4" x="270.26" y="642.20" font-size="13.00" fill="#444" textLength="27.94" lengthAdjust="spacingAndGlyphs">May</text>
<text id="mo5" x="314.74" y="642.20" font-size="13.00" fill="#444" textLength="27.96" lengthAdjust="spacingAndGlyphs">Jun.</text>
<text id="mo6" x="360.90" y="642.20" font-size="13.00" fill="#444" textLength="22.66" lengthAdjust="spacingAndGlyphs">Jul.</text>
<text id="mo7" x="402.20" y="642.20" font-size="13.00" fill="#444" textLength="29.40" lengthAdjust="spacingAndGlyphs">Aug.</text>
<text id="mo8" x="444.08" y="642.20" font-size="13.00" fill="#444" textLength="29.35" lengthAdjust="spacingAndGlyphs">Sep.</text>
<text id="mo9" x="486.79" y="642.20" font-size="13.00" fill="#444" textLength="28.54" lengthAdjust="spacingAndGlyphs">Oct.</text>
<text id="mo10" x="532.50" y="642.20" font-size="13.00" fill="#444" textLength="28.27" lengthAdjust="spacingAndGlyphs">Nov.</text>
<text id="mo11" x="576.39" y="642.20" font-size="13.00" fill="#444" textLength="29.75" lengthAdjust="spacingAndGlyphs">Dec.</text>
<text id="y40" x="60.12" y="348.30" font-size="16.20" fill="#555" textLength="19.68" lengthAdjust="spacingAndGlyphs">40</text>
<text id="y30" x="59.62" y="417.70" font-size="16.20" fill="#555" textLength="20.15" lengthAdjust="spacingAndGlyphs">30</text>
<text id="y20" x="59.61" y="487.40" font-size="16.20" fill="#555" textLength="20.15" lengthAdjust="spacingAndGlyphs">20</text>
<text id="y10" x="62.76" y="557.50" font-size="16.20" fill="#555" textLength="17.00" lengthAdjust="spacingAndGlyphs">10</text>
<text id="y0" x="71.37" y="626.80" font-size="16.20" fill="#555" textLength="10.15" lengthAdjust="spacingAndGlyphs">0</text>
<g fill="#222">
<text id="tt1" transform="translate(213.3,207.8) rotate(-90)" font-size="15.5" textLength="31.3" lengthAdjust="spacingAndGlyphs">ths t</text>
<text id="ml1" transform="translate(213.3,256.6) rotate(-90)" font-size="15.5" textLength="23" lengthAdjust="spacingAndGlyphs">mln</text>
<text id="tt2" transform="translate(678.8,207) rotate(-90)" font-size="15.5" textLength="31.4" lengthAdjust="spacingAndGlyphs">ths t</text>
<text id="ml2" transform="translate(678.8,257.7) rotate(-90)" font-size="15.5" textLength="24.7" lengthAdjust="spacingAndGlyphs">mln</text>
</g>
</svg>
</body></html>
